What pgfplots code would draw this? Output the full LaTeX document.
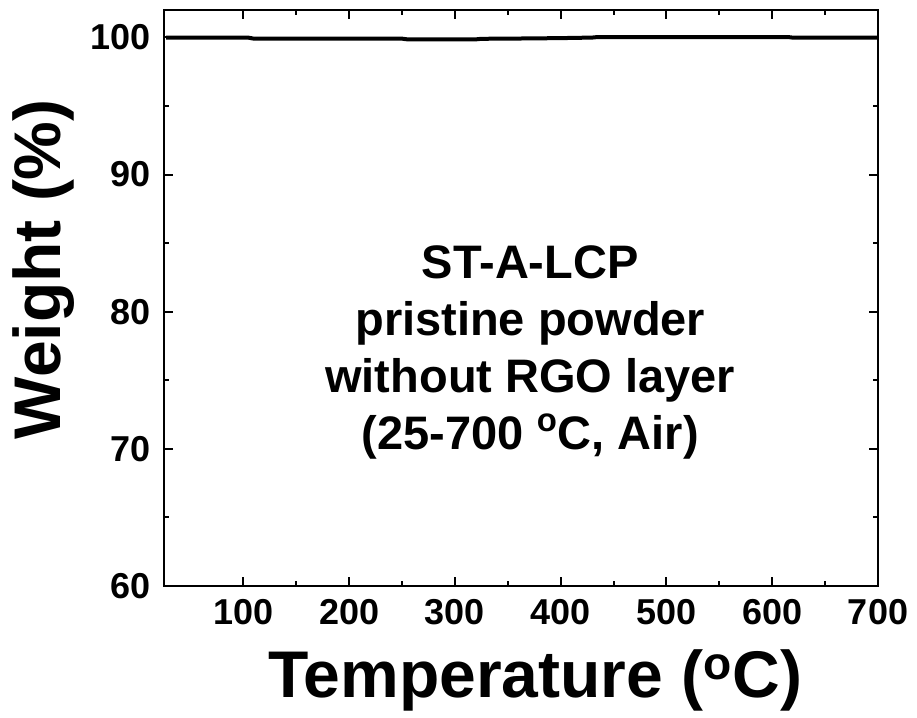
\documentclass[border=0pt]{standalone}
\usepackage{fontspec}
\setmainfont{Liberation Sans}
\usepackage{pgfplots}
\pgfplotsset{compat=1.18}
\begin{document}
\begin{tikzpicture}
\begin{axis}[
  scale only axis,
  width=357pt, height=288pt,
  xmin=25, xmax=700, ymin=60, ymax=102,
  xtick={100,200,300,400,500,600,700},
  ytick={60,70,80,90,100},
  minor x tick num=1, minor y tick num=1,
  tick align=inside,
  major tick length=4.5pt, minor tick length=2.5pt,
  axis line style={line width=1pt},
  every tick/.style={black, line width=1pt},
  /pgf/number format/assume math mode=true,
  tick label style={font=\fontsize{18}{18}\selectfont\bfseries},
  xticklabel style={yshift=-3pt},
  yticklabel style={xshift=-3pt},
  xlabel={Temperature (\textsuperscript{o}C)},
  ylabel={Weight (\%)},
  label style={font=\fontsize{33}{33}\selectfont\bfseries},
  xlabel style={at={(axis description cs:0.52,-0.193)}, anchor=base},
  ylabel style={at={(axis description cs:-0.168,0.55)}, anchor=center},
  clip=true,
]
\addplot[black, line width=2pt, sharp plot] coordinates {
(27,99.98) (105,99.98) (110,99.91) (250,99.91) (255,99.86) (320,99.86)
(325,99.90) (360,99.92) (400,99.95) (430,99.99) (435,100.03) (615,100.03)
(620,99.98) (700,99.98)
};
\node[align=center, font=\fontsize{23.5}{28.5}\selectfont\bfseries] at (rel axis cs:0.513,0.406)
  {ST-A-LCP\\pristine powder\\without RGO layer\\(25-700 \textsuperscript{o}C, Air)};
\coordinate (bl) at (rel axis cs:0,0);
\coordinate (tr) at (rel axis cs:1,1);
\end{axis}
\path ([shift={(-82pt,-60pt)}]bl) rectangle ([shift={(19.5pt,5pt)}]tr);
\end{tikzpicture}
\end{document}
